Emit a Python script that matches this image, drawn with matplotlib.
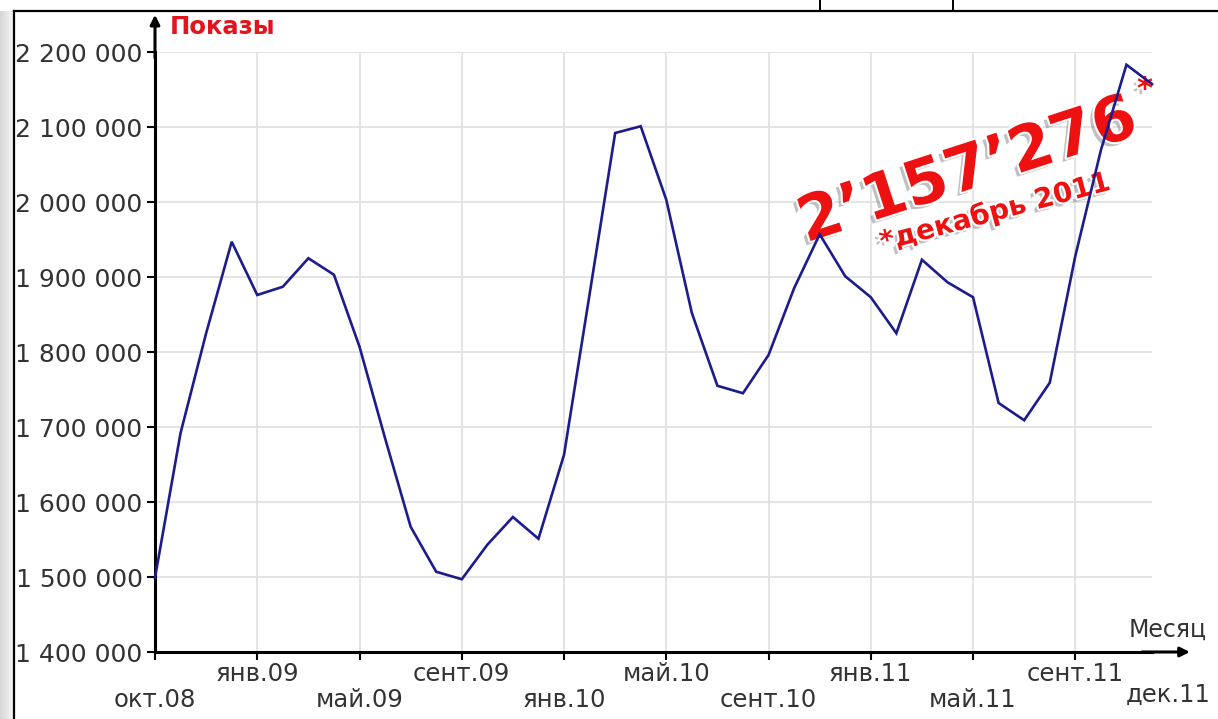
import matplotlib
matplotlib.use("Agg")
import matplotlib.pyplot as plt
import matplotlib.patheffects as pe
from matplotlib.ticker import FuncFormatter
import numpy as np

# ---- data ----
values = [1499000, 1692000, 1825000, 1947000, 1876000, 1887000, 1925000, 1903000,
          1807000, 1685000, 1567000, 1507000, 1497000, 1543000, 1580000, 1551000,
          1663000, 1877000, 2092000, 2101000, 2003000, 1852000, 1755000, 1745000,
          1796000, 1885000, 1957000, 1901000, 1873000, 1825000, 1923000, 1893000,
          1873000, 1732000, 1709000, 1759000, 1928000, 2069000, 2183000, 2157276]
tick_pos = [0, 4, 8, 12, 16, 20, 24, 28, 32, 36]
tick_labels = ["окт.08", "янв.09", "май.09", "сент.09", "янв.10", "май.10",
               "сент.10", "янв.11", "май.11", "сент.11"]
end_label = "дек.11"
y_ticks = [1400000, 1500000, 1600000, 1700000, 1800000, 1900000, 2000000, 2100000, 2200000]
y_title = "Показы"
x_title = "Месяц"
big_value = "2’157’276"
big_note = "*декабрь 2011"

W, H = 1218, 719
fig = plt.figure(figsize=(W / 100, H / 100), dpi=100)
fig.patch.set_facecolor("white")

# left shadow gradient
bg = fig.add_axes([0, 0, 14 / W, 1 - 11 / H])
grad = np.linspace(0.84, 0.97, 50).reshape(1, -1)
bg.imshow(grad, cmap="gray", vmin=0, vmax=1, aspect="auto", extent=[0, 1, 0, 1])
bg.axis("off")

# frame lines (screenshot border)
fig.add_artist(plt.Line2D([14 / W, 1], [1 - 11 / H, 1 - 11 / H], color="black", lw=1.6))
fig.add_artist(plt.Line2D([14 / W, 14 / W], [0, 1 - 11 / H], color="black", lw=1.6))
for xp in (820, 953):
    fig.add_artist(plt.Line2D([xp / W, xp / W], [1 - 11 / H, 1], color="black", lw=1.4))

ax = fig.add_axes([155 / W, 67 / H, 997 / W, 600 / H])
x = np.arange(len(values))
ax.plot(x, values, color="#1c1c8c", lw=1.9, solid_joinstyle="miter", clip_on=False, zorder=5)

ax.set_xlim(0, 39)
ax.set_ylim(1400000, 2200000)
ax.set_yticks(y_ticks)
ax.yaxis.set_major_formatter(FuncFormatter(lambda v, p: f"{v:,.0f}".replace(",", " ")))
labels = [("" if i % 2 == 1 else "\n") + lab for i, lab in enumerate(tick_labels)]
ax.set_xticks(tick_pos)
ax.set_xticklabels(labels)

ax.grid(True, color="#e2e2e2", lw=1.3)
ax.set_axisbelow(True)
for s in ("top", "right"):
    ax.spines[s].set_visible(False)
for s in ("left", "bottom"):
    ax.spines[s].set_linewidth(2.2)
    ax.spines[s].set_color("black")

ax.tick_params(axis="y", direction="out", length=6, width=1.5, pad=3,
               labelsize=18, labelcolor="#333333")
ax.tick_params(axis="x", direction="out", length=6, width=1.5, pad=1,
               labelsize=17.5, labelcolor="#333333")
for t in ax.get_xticklabels():
    t.set_linespacing(1.1)

ax.text((1211 - 155) / 997, -0.052, end_label, transform=ax.transAxes,
        ha="right", va="top", fontsize=17.5, color="#333333", clip_on=False)

# axis arrows
ax.annotate("", xy=(0, 1.062), xytext=(0, 0.99), xycoords="axes fraction",
            arrowprops=dict(arrowstyle="-|>", mutation_scale=14, lw=2.2, color="black",
                            shrinkA=0, shrinkB=0), annotation_clip=False)
ax.annotate("", xy=(1.038, 0), xytext=(0.99, 0), xycoords="axes fraction",
            arrowprops=dict(arrowstyle="-|>", mutation_scale=14, lw=2.2, color="black",
                            shrinkA=0, shrinkB=0), annotation_clip=False)

ax.text(15 / 997, (652 - 27) / 600, y_title, transform=ax.transAxes, ha="left",
        va="center", fontsize=17.5, fontweight="bold", color="#e3141c", clip_on=False)
ax.text((1168 - 155) / 997, (652 - 630) / 600, x_title, transform=ax.transAxes,
        ha="center", va="center", fontsize=17, color="#333333", clip_on=False)

effects = [pe.SimplePatchShadow(offset=(-3, -3), shadow_rgbFace="#777777", alpha=0.45),
           pe.Stroke(linewidth=3, foreground="white"), pe.Normal()]
ax.text(968 / W, 1 - 172 / H, big_value, transform=fig.transFigure, rotation=18,
        rotation_mode="anchor", ha="center", va="center", fontsize=45, fontweight="bold",
        color="#ee1111", path_effects=effects, zorder=4, clip_on=False)
ax.text(1145 / W, 1 - 90 / H, "*", transform=fig.transFigure, ha="center", va="center",
        fontsize=22, fontweight="bold", color="#ee1111", path_effects=effects, zorder=4,
        clip_on=False)
ax.text(995 / W, 1 - 212 / H, big_note, transform=fig.transFigure, rotation=15,
        rotation_mode="anchor", ha="center", va="center", fontsize=20, fontweight="bold",
        color="#ee1111", path_effects=effects, zorder=4, clip_on=False)

fig.savefig("out.png", dpi=100)
